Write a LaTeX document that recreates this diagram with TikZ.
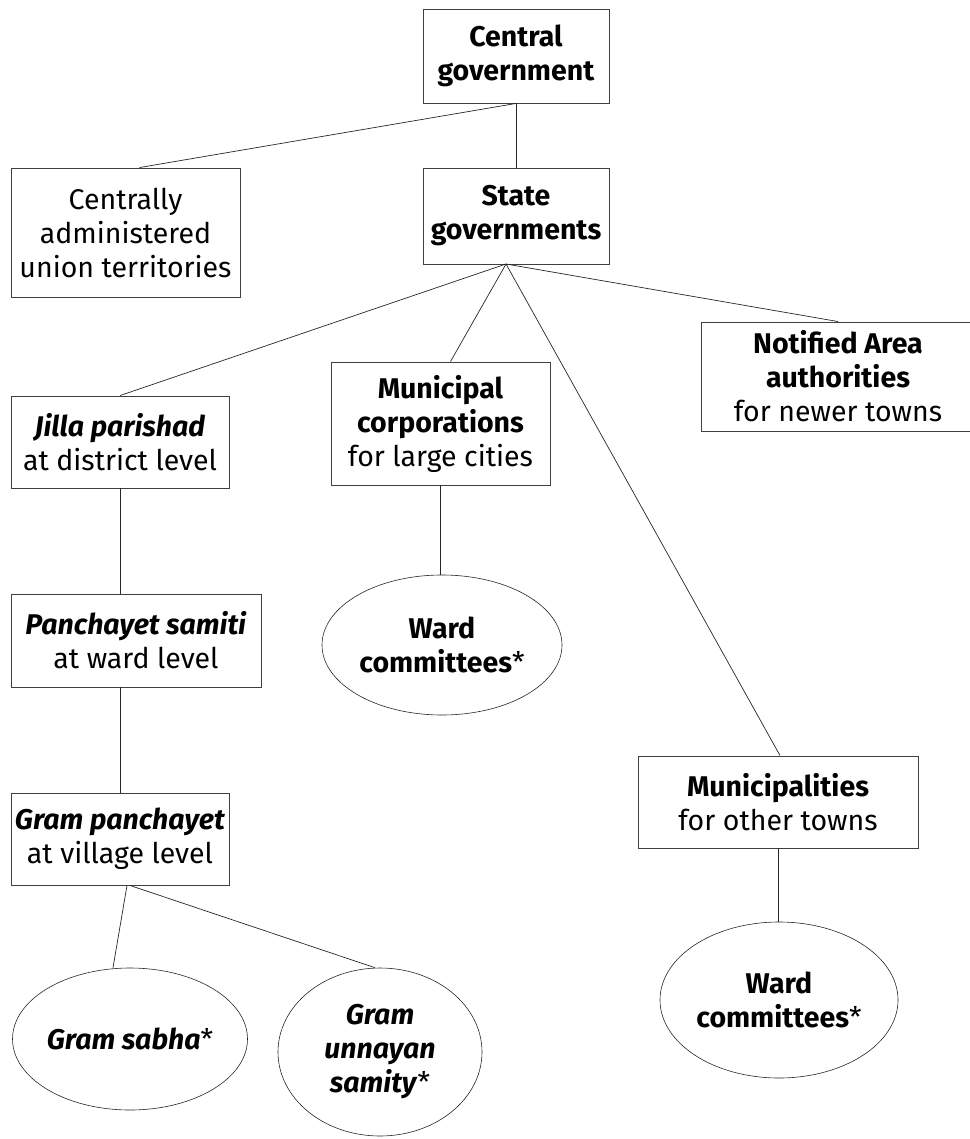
\documentclass[tikz,border=0pt]{standalone}
\usepackage{fontspec}
\setmainfont{Fira Sans}
\usetikzlibrary{shapes.geometric,calc}
\begin{document}
\begin{tikzpicture}[x=1pt,y=-1pt,
  box/.style={draw=black!75,line width=0.9pt,align=center,inner sep=0pt,
    font=\fontsize{28.5}{34}\selectfont},
  oval/.style={ellipse,draw=black!85,line width=0.6pt,align=center,inner sep=0pt,
    font=\fontsize{28.5}{34}\selectfont},
  link/.style={draw=black!85,line width=0.7pt}]

\useasboundingbox (0,0) rectangle (969,1139);

\node[box,minimum width=186,minimum height=94] (cg) at (516,56)
  {\textbf{Central}\\\textbf{government}};
\node[box,minimum width=186,minimum height=96] (sg) at (516,216)
  {\textbf{State}\\\textbf{governments}};
\node[box,minimum width=229,minimum height=129] (cut) at (125.5,232.5)
  {Centrally\\administered\\union territories};

\node[box,minimum width=218,minimum height=92] (jp) at (120,442)
  {\textbf{\textit{Jilla parishad}}\\at district level};
\node[box,minimum width=250,minimum height=93] (ps) at (136,640.5)
  {\textbf{\textit{Panchayet samiti}}\\at ward level};
\node[box,minimum width=218,minimum height=92] (gp) at (120,839)
  {\textbf{\textit{Gram panchayet}}\\at village level};
\node[oval,minimum width=216,minimum height=142] (gs) at (130,1039)
  {\textbf{\textit{Gram sabha}}*};
\node[oval,minimum width=204,minimum height=168] (gu) at (380,1052)
  {\textbf{\textit{Gram}}\\\textbf{\textit{unnayan}}\\\textbf{\textit{samity}}*};

\node[box,minimum width=219,minimum height=123] (mc) at (440.5,423.5)
  {\textbf{Municipal}\\\textbf{corporations}\\for large cities};
\node[oval,minimum width=240,minimum height=140] (wc1) at (442,645)
  {\textbf{Ward}\\\textbf{committees}*};

\node[box,minimum width=274,minimum height=109] (na) at (838,376.5)
  {\textbf{Notified Area}\\\textbf{authorities}\\for newer towns};

\node[box,minimum width=280,minimum height=92] (mu) at (778,802)
  {\textbf{Municipalities}\\for other towns};
\node[oval,minimum width=238,minimum height=156] (wc2) at (779,1000)
  {\textbf{Ward}\\\textbf{committees}*};

\coordinate (hub) at (506,264);

\draw[link] (cg.south) -- (sg.north);
\draw[link] (cg.south) -- ($(cut.north)+(14,0)$);
\draw[link] (hub) -- (jp.north);
\draw[link] (hub) -- ($(mc.north)+(10,0)$);
\draw[link] (hub) -- (na.north);
\draw[link] (hub) -- ($(mu.north)+(2,0)$);
\draw[link] (jp.south) -- (jp.south |- ps.north);
\draw[link] (gp.north |- ps.south) -- (gp.north);
\draw[link] ($(gp.south)+(7,0)$) -- ($(gs.north)+(-17,0)$);
\draw[link] ($(gp.south)+(10,0)$) -- ($(gu.north)+(-5,0)$);
\draw[link] (mc.south) -- (mc.south |- wc1.north);
\draw[link] (mu.south) -- (mu.south |- wc2.north);

\end{tikzpicture}
\end{document}
